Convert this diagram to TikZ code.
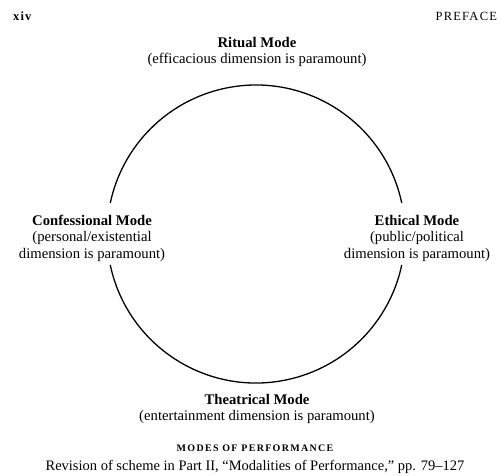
\documentclass[tikz,border=0pt]{standalone}
\usepackage{fontspec}
\setmainfont{Liberation Serif}
\usetikzlibrary{positioning}

\begin{document}
\begin{tikzpicture}[
    x=1pt, y=1pt,
    every node/.style={inner sep=0pt, outer sep=0pt, align=center},
    mode/.style={font=\fontsize{14.7}{16.5}\selectfont},
    folio/.style={font=\fontsize{12.5}{13}\selectfont\addfontfeature{LetterSpace=10}},
    caption/.style={font=\fontsize{14.5}{16}\selectfont},
    smallcap/.style={font=\fontsize{10}{11}\selectfont\bfseries\addfontfeature{LetterSpace=13}},
    modecircle/.style={line width=1.3pt},
]
\useasboundingbox (0,0) rectangle (502,-475);

% page head
\node[folio, anchor=base west] (xiv) at (13,-20) {\textbf{xiv}};
\node[folio, anchor=base east] (preface) at (497,-20) {PREFACE};

% the four modes
\node[mode] (ritual) at (257,-52) {\textbf{Ritual Mode}\\(efficacious dimension is paramount)};
\node[mode] (confessional) at (92,-238) {\textbf{Confessional Mode}\\(personal/existential\\dimension is paramount)};
\node[mode] (ethical) at (417,-238) {\textbf{Ethical Mode}\\(public/political\\dimension is paramount)};
\node[mode] (theatrical) at (257,-409) {\textbf{Theatrical Mode}\\(entertainment dimension is paramount)};

% circle, broken at the side labels
\coordinate (c) at (256,-234);
\draw[modecircle] ([shift={(12:149)}]c) arc (12:168:149);
\draw[modecircle] ([shift={(192:149)}]c) arc (192:348:149);

% caption
\node[smallcap] (title) at (255,-448) {MODES OF PERFORMANCE};
\node[caption, below=9pt of title] (source) {Revision of scheme in Part II, “Modalities of Performance,” pp. 79–127};
\end{tikzpicture}
\end{document}
